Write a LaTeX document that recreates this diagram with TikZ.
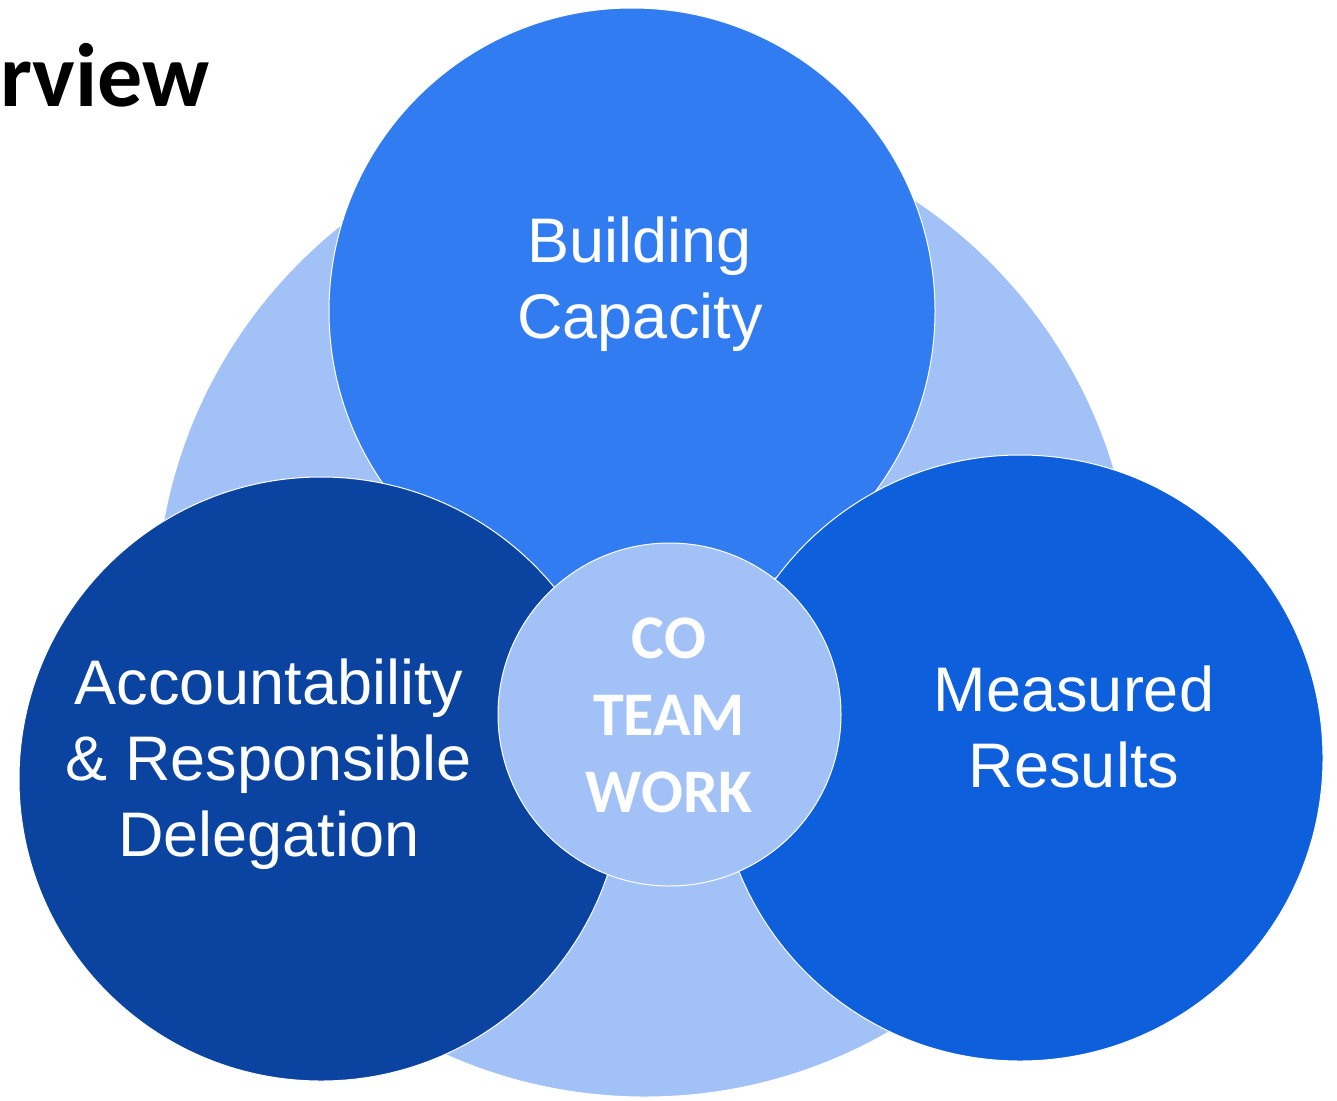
\documentclass[tikz,border=0pt]{standalone}
\usepackage{fontspec}
\setmainfont{Liberation Sans}
\newfontfamily\calibri{Carlito}
\definecolor{paleblue}{RGB}{162,194,247}
\definecolor{midblue}{RGB}{50,124,242}
\definecolor{navyblue}{RGB}{10,68,160}
\definecolor{brightblue}{RGB}{13,95,220}

\begin{document}
\begin{tikzpicture}[x=1pt,y=-1pt,
    blob/.style={circle, draw=white, line width=1pt, inner sep=0pt},
    circtext/.style={text=white, align=center, inner sep=0pt, font=\fontsize{63}{76}\selectfont},
    coretext/.style={text=white, align=center, inner sep=0pt, font=\calibri\bfseries\fontsize{62}{77}\selectfont}]
\useasboundingbox (0,0) rectangle (1337,1100);
\clip (0,0) rectangle (1337,1100);
% circles, back to front
\node[blob, fill=paleblue, minimum size=978pt] (back) at (645,608) {};
\node[blob, fill=midblue, minimum size=606pt] (build) at (632,311) {};
\node[blob, fill=navyblue, minimum size=604pt] (account) at (321,779) {};
\node[blob, fill=brightblue, minimum size=606pt] (measure) at (1020,758) {};
\node[blob, fill=paleblue, minimum size=343pt] (core) at (669.5,714.5) {};
% texts
\node[circtext] (buildtext) at (640,284) {Building\\Capacity};
\node[circtext] (accounttext) at (269,764) {Accountability\\\& Responsible\\Delegation};
\node[circtext] (measuretext) at (1074,727) {Measured\\Results};
\node[coretext] (coretitle) at (669,715) {CO\\TEAM\\WORK};
\node[anchor=base west, inner sep=0pt, font=\calibri\bfseries\fontsize{90}{90}\selectfont] (title) at (0,106) {rview};
\end{tikzpicture}
\end{document}
